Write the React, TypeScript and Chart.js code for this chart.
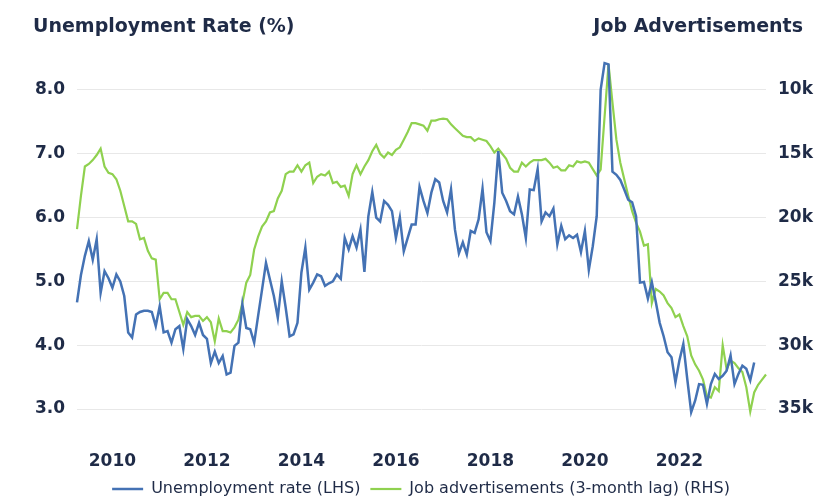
import { useEffect, useRef } from "react";
import { Chart, registerables } from "chart.js";

Chart.register(...registerables);

// First month of the series (April 2009), monthly data
const START_YEAR = 2009;
const START_MONTH = 4;

// Unemployment rate (%), left axis
const unemploymentRate = [
  4.67, 5.1, 5.4, 5.63, 5.34, 5.66, 4.82, 5.16, 5.05, 4.9,
  5.11, 5.0, 4.77, 4.2, 4.12, 4.48, 4.52, 4.54, 4.54, 4.52,
  4.3, 4.61, 4.2, 4.22, 4.04, 4.25, 4.3, 3.94, 4.41, 4.3,
  4.16, 4.35, 4.16, 4.1, 3.72, 3.9, 3.72, 3.83, 3.54, 3.57,
  3.99, 4.04, 4.64, 4.27, 4.25, 4.04, 4.46, 4.87, 5.29, 5.03,
  4.77, 4.43, 5.0, 4.59, 4.14, 4.17, 4.35, 5.14, 5.53, 4.87,
  4.98, 5.11, 5.08, 4.93, 4.97, 5.0, 5.11, 5.04, 5.68, 5.5,
  5.71, 5.53, 5.81, 5.15, 6.02, 6.4, 6.0, 5.94, 6.26, 6.2,
  6.1, 5.68, 6.0, 5.47, 5.68, 5.89, 5.89, 6.48, 6.26, 6.07,
  6.39, 6.6, 6.55, 6.26, 6.08, 6.44, 5.81, 5.44, 5.61, 5.42,
  5.79, 5.76, 5.97, 6.45, 5.77, 5.63, 6.23, 7.04, 6.39, 6.26,
  6.1, 6.05, 6.33, 6.05, 5.68, 6.44, 6.43, 6.76, 5.94, 6.08,
  6.02, 6.14, 5.58, 5.87, 5.66, 5.72, 5.68, 5.73, 5.46, 5.79,
  5.18, 5.55, 6.02, 8.0, 8.42, 8.4, 6.72, 6.67, 6.59, 6.44,
  6.28, 6.24, 6.02, 4.98, 4.99, 4.73, 4.99, 4.68, 4.35, 4.14,
  3.89, 3.81, 3.42, 3.76, 4.02, 3.47, 2.95, 3.13, 3.39, 3.38,
  3.08, 3.39, 3.55, 3.47, 3.52, 3.6, 3.84, 3.39, 3.55, 3.68,
  3.63, 3.45, 3.73,
];

// Job advertisements (thousands, 3-month lag), right axis (inverted)
const jobAdsThousands = [
  20.9, 18.3, 16.0, 15.8, 15.5, 15.1, 14.6, 16.0, 16.5, 16.6,
  17.0, 17.9, 19.1, 20.3, 20.3, 20.5, 21.7, 21.6, 22.6, 23.2,
  23.3, 26.4, 25.9, 25.9, 26.4, 26.4, 27.4, 28.4, 27.4, 27.8,
  27.7, 27.7, 28.1, 27.8, 28.2, 29.7, 27.9, 28.9, 28.9, 29.0,
  28.6, 28.0, 26.7, 25.1, 24.5, 22.5, 21.5, 20.7, 20.3, 19.6,
  19.5, 18.5, 17.9, 16.6, 16.4, 16.4, 15.9, 16.4, 15.9, 15.7,
  17.3, 16.8, 16.6, 16.7, 16.4, 17.3, 17.2, 17.6, 17.5, 18.3,
  16.6, 15.9, 16.6, 16.0, 15.5, 14.8, 14.3, 15.0, 15.3, 14.9,
  15.1, 14.7, 14.5, 13.9, 13.3, 12.6, 12.6, 12.7, 12.8, 13.2,
  12.4, 12.4, 12.3, 12.25, 12.3, 12.7, 13.0, 13.3, 13.6, 13.7,
  13.7, 14.0, 13.8, 13.9, 14.0, 14.4, 14.9, 14.6, 15.0, 15.4,
  16.1, 16.4, 16.4, 15.7, 16.0, 15.7, 15.5, 15.5, 15.5, 15.4,
  15.7, 16.1, 16.0, 16.3, 16.3, 15.9, 16.0, 15.6, 15.7, 15.6,
  15.7, 16.2, 16.7, 16.25, 12.1, 8.0, 11.0, 13.9, 15.7, 17.0,
  18.3, 19.5, 20.4, 21.1, 22.2, 22.1, 26.7, 25.6, 25.8, 26.1,
  26.7, 27.1, 27.8, 27.6, 28.5, 29.3, 30.8, 31.5, 32.0, 32.7,
  34.0, 34.1, 33.3, 33.6, 30.0, 31.9, 31.2, 31.4, 31.8, 32.1,
  33.3, 35.2, 33.7, 33.1, 32.7, 32.3,
];

const tickYears = [2010, 2012, 2014, 2016, 2018, 2020, 2022];
const leftTicks = [3, 4, 5, 6, 7, 8];
const rightTicks = [10, 15, 20, 25, 30, 35];

const seriesNames = [
  "Unemployment rate (LHS)",
  "Job advertisements (3-month lag) (RHS)",
];

const months: string[] = [];
for (let i = 0; i < jobAdsThousands.length; i++) {
  const m = START_MONTH - 1 + i;
  months.push(
    `${START_YEAR + Math.floor(m / 12)}-${String((m % 12) + 1).padStart(2, "0")}`
  );
}

const TEXT = "#1f2b47";
const BLUE = "#4472b4";
const GREEN = "#8fd14f";
const FONT = "'DejaVu Sans', sans-serif";

export default function App() {
  const ref = useRef<HTMLCanvasElement | null>(null);

  useEffect(() => {
    if (!ref.current) return;
    const legendShift = {
      id: "legendShift",
      beforeDraw(chart: any) {
        if (chart.legend) {
          chart.legend.left = 12;
          chart.legend.right = 818 + 12;
        }
      },
    };
    const chart = new Chart(ref.current, {
      type: "line",
      data: {
        labels: months,
        datasets: [
          {
            label: seriesNames[0],
            data: unemploymentRate,
            yAxisID: "y",
            borderColor: BLUE,
            backgroundColor: BLUE,
            borderWidth: 2.5,
            pointRadius: 0,
            tension: 0,
            clip: false,
          },
          {
            label: seriesNames[1],
            data: jobAdsThousands,
            yAxisID: "y1",
            borderColor: GREEN,
            backgroundColor: GREEN,
            borderWidth: 2.2,
            pointRadius: 0,
            tension: 0,
            clip: false,
          },
        ],
      },
      plugins: [legendShift],
      options: {
        animation: false,
        responsive: false,
        layout: { padding: { top: 62, left: 0, right: 0, bottom: 0 } },
        plugins: {
          title: { display: false },
          tooltip: { enabled: false },
          legend: {
            display: true,
            position: "bottom",
            labels: {
              usePointStyle: true,
              pointStyle: "line",
              pointStyleWidth: 31,
              padding: 10,
              color: TEXT,
              font: { family: FONT, size: 16 },
            },
          },
        },
        scales: {
          x: {
            type: "category",
            offset: false,
            grid: { display: false },
            border: { display: false },
            afterBuildTicks(scale: any) {
              scale.ticks = scale.ticks.filter((t: any) => {
                const l = months[t.value];
                return l.endsWith("-01") && tickYears.includes(Number(l.slice(0, 4)));
              });
            },
            afterFit(scale: any) {
              scale.height = 56;
            },
            ticks: {
              autoSkip: false,
              maxRotation: 0,
              padding: 28,
              color: TEXT,
              font: { family: FONT, size: 17, weight: "bold" },
              callback(this: any, v: any) {
                return String(this.getLabelForValue(v)).slice(0, 4);
              },
            },
          },
          y: {
            position: "left",
            min: 2.906,
            max: 8.4375,
            afterBuildTicks(scale: any) {
              scale.ticks = leftTicks.map((v) => ({ value: v }));
            },
            afterFit(scale: any) {
              scale.width = 77;
            },
            grid: { color: "#e8e8e8", drawTicks: false, lineWidth: 1 },
            border: { display: false },
            ticks: {
              padding: 12,
              color: TEXT,
              font: { family: FONT, size: 17, weight: "bold" },
              callback: (v: any) => Number(v).toFixed(1),
            },
          },
          y1: {
            position: "right",
            reverse: true,
            min: 7.8125,
            max: 35.47,
            afterBuildTicks(scale: any) {
              scale.ticks = rightTicks.map((v) => ({ value: v }));
            },
            afterFit(scale: any) {
              scale.width = 52;
            },
            grid: { display: false, drawTicks: false },
            border: { display: false },
            ticks: {
              padding: 12,
              color: TEXT,
              font: { family: FONT, size: 17, weight: "bold" },
              callback: (v: any) => `${v}k`,
            },
          },
        },
      },
    } as any);
    return () => chart.destroy();
  }, []);

  return (
    <div
      style={{
        position: "absolute",
        left: 0,
        top: 0,
        width: 818,
        height: 499,
        overflow: "hidden",
        background: "#fff",
      }}
    >
      <canvas ref={ref} width={818} height={507} style={{ display: "block" }} />
      <div
        style={{
          position: "absolute",
          left: 33,
          top: 13,
          fontFamily: FONT,
          fontWeight: "bold",
          fontSize: 19,
          lineHeight: "24px",
          color: TEXT,
          whiteSpace: "nowrap",
        }}
      >
        Unemployment Rate (%)
      </div>
      <div
        style={{
          position: "absolute",
          right: 15,
          top: 13,
          fontFamily: FONT,
          fontWeight: "bold",
          fontSize: 19,
          lineHeight: "24px",
          color: TEXT,
          whiteSpace: "nowrap",
        }}
      >
        Job Advertisements
      </div>
    </div>
  );
}
